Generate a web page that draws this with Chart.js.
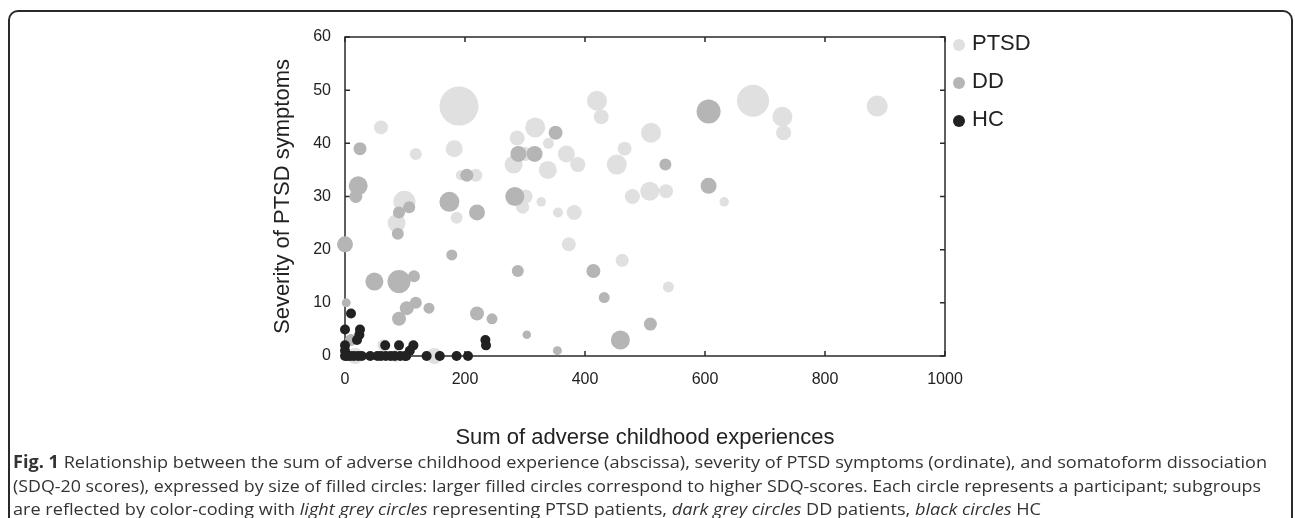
<!DOCTYPE html>
<html lang="en">
<head>
<meta charset="UTF-8">
<title>Fig. 1 ACE vs PTSD severity</title>
<script src="https://cdn.jsdelivr.net/npm/chart.js@4.4.0/dist/chart.umd.min.js"></script>
<style>
  body { margin: 0; background: #fff; width: 1295px; height: 518px; overflow: hidden; position: relative; }
  #frame { position: absolute; left: 8px; top: 10px; width: 1281px; height: 600px; border: 2px solid #2a2a2a; border-radius: 10px; }
  #myChart { position: absolute; left: 0; top: 0; }
  #caption { position: absolute; left: 13px; top: 450px; font-family: "Open Sans", "Noto Sans", sans-serif; font-size: 17px; color: #333; }
  #caption div { white-space: nowrap; line-height: 23.5px; width: max-content; transform-origin: left center; }
</style>
</head>
<body>
<div id="frame"></div>
<canvas id="myChart" width="1295" height="455"></canvas>
<div id="caption">
  <div data-w="1254"><b>Fig. 1</b> Relationship between the sum of adverse childhood experience (abscissa), severity of PTSD symptoms (ordinate), and somatoform dissociation</div>
  <div data-w="1248">(SDQ-20 scores), expressed by size of filled circles: larger filled circles correspond to higher SDQ-scores. Each circle represents a participant; subgroups</div>
  <div data-w="1028">are reflected by color-coding with <i>light grey circles</i> representing PTSD patients, <i>dark grey circles</i> DD patients, <i>black circles</i> HC</div>
</div>

<script>
    // values: x = sum of adverse childhood experiences,
    // y = PTSD severity, sdq = SDQ-20 score (circle size)
    const groups = ['PTSD', 'DD', 'HC'];

    const ptsdX = [190, 680, 887, 729, 731, 420, 427, 60, 118, 182, 193, 218, 287, 317, 339, 281, 300, 369, 338, 388, 453, 466, 510, 479, 508, 535, 632, 99, 86, 186, 301, 296, 327, 355, 382, 373, 462, 539, 17, 64, 84, 149];
    const ptsdY = [47, 48, 47, 45, 42, 48, 45, 43, 38, 39, 34, 34, 41, 43, 40, 36, 38, 38, 35, 36, 36, 39, 42, 30, 31, 31, 29, 29, 25, 26, 30, 28, 29, 27, 27, 21, 18, 13, 0, 2, 0, 0];
    const ptsdSdq = [78, 64, 42, 40, 30, 40, 30, 28, 24, 34, 20, 26, 30, 40, 22, 36, 28, 34, 36, 30, 40, 28, 40, 30, 38, 28, 19, 44, 36, 24, 28, 26, 19, 20, 30, 28, 26, 22, 32, 24, 24, 32];

    const ddX = [25, 22, 18, 0, 203, 289, 316, 351, 534, 606, 606, 107, 90, 88, 174, 220, 283, 178, 49, 90, 115, 288, 414, 432, 2, 118, 103, 90, 140, 220, 245, 303, 354, 459, 509, 10];
    const ddY = [39, 32, 30, 21, 34, 38, 38, 42, 36, 46, 32, 28, 27, 23, 29, 27, 30, 19, 14, 14, 15, 16, 16, 11, 10, 10, 9, 7, 9, 8, 7, 4, 1, 3, 6, 3];
    const ddSdq = [26, 38, 26, 32, 26, 32, 32, 28, 24, 48, 32, 24, 24, 24, 40, 32, 38, 22, 36, 46, 24, 24, 28, 22, 18, 24, 28, 28, 22, 28, 22, 17, 18, 38, 26, 24];

    const hcX = [10, 0, 25, 24, 20, 0, 0, 67, 90, 114, 108, 102, 234, 235, 0, 4, 9, 15, 22, 28, 42, 54, 60, 68, 76, 83, 92, 100, 136, 158, 186, 205];
    const hcY = [8, 5, 5, 4, 3, 2, 1, 2, 2, 2, 1, 0, 3, 2, 0, 0, 0, 0, 0, 0, 0, 0, 0, 0, 0, 0, 0, 0, 0, 0, 0, 0];
    const hcSdq = [20, 20, 20, 20, 20, 20, 20, 20, 20, 20, 20, 20, 20, 20, 20, 20, 20, 20, 20, 20, 20, 20, 20, 20, 20, 20, 20, 20, 20, 20, 20, 20];

    const xTicks = [0, 200, 400, 600, 800, 1000];
    const yTicks = [0, 10, 20, 30, 40, 50, 60];

    function toPoints(xs, ys, sdq) {
        return xs.map((x, i) => ({ x: x, y: ys[i], r: sdq[i] / 4 }));
    }

    // box round the plot with short ticks pointing inwards
    const boxPlugin = {
        id: 'box',
        beforeDatasetsDraw(chart) {
            const {ctx, chartArea: a, scales} = chart;
            ctx.save();
            ctx.strokeStyle = '#2a2a2a';
            ctx.lineWidth = 1.5;
            ctx.strokeRect(a.left, a.top, a.right - a.left, a.bottom - a.top);
            ctx.beginPath();
            xTicks.forEach(v => {
                const px = scales.x.getPixelForValue(v);
                ctx.moveTo(px, a.bottom); ctx.lineTo(px, a.bottom - 5);
                ctx.moveTo(px, a.top); ctx.lineTo(px, a.top + 5);
            });
            yTicks.forEach(v => {
                const py = scales.y.getPixelForValue(v);
                ctx.moveTo(a.left, py); ctx.lineTo(a.left + 5, py);
                ctx.moveTo(a.right, py); ctx.lineTo(a.right - 5, py);
            });
            ctx.stroke();
            ctx.restore();
        },
        afterDraw(chart) {
            // legend at the right of the plot
            const {ctx, chartArea: a} = chart;
            ctx.save();
            ctx.font = '22px "Liberation Sans", Arial, sans-serif';
            ctx.textBaseline = 'middle';
            chart.data.datasets.forEach((ds, i) => {
                const y = a.top + 8 + i * 38;
                ctx.fillStyle = ds.backgroundColor;
                ctx.beginPath();
                ctx.arc(a.right + 14, y, 6, 0, Math.PI * 2);
                ctx.fill();
                ctx.fillStyle = '#222';
                ctx.fillText(ds.label, a.right + 27, y - 1);
            });
            ctx.restore();
        }
    };

    Chart.defaults.font.family = '"Liberation Sans", Arial, sans-serif';
    Chart.defaults.color = '#222';

    const ctx = document.getElementById('myChart').getContext('2d');
    const myChart = new Chart(ctx, {
        type: 'bubble',
        data: {
            datasets: [
                { label: groups[0], data: toPoints(ptsdX, ptsdY, ptsdSdq), backgroundColor: '#e0e0e0', borderWidth: 0, order: 3, clip: false },
                { label: groups[1], data: toPoints(ddX, ddY, ddSdq), backgroundColor: '#b5b5b5', borderWidth: 0, order: 2, clip: false },
                { label: groups[2], data: toPoints(hcX, hcY, hcSdq), backgroundColor: '#222222', borderWidth: 0, order: 1, clip: false }
            ]
        },
        options: {
            responsive: false,
            animation: false,
            layout: { padding: { left: 267, top: 37, right: 350, bottom: 0 } },
            plugins: { legend: { display: false }, tooltip: { enabled: false } },
            scales: {
                x: {
                    type: 'linear', min: 0, max: 1000,
                    grid: { display: false, drawTicks: false },
                    border: { display: false },
                    afterBuildTicks: s => { s.ticks = xTicks.map(v => ({ value: v })); },
                    ticks: { font: { size: 16 }, padding: 14, maxRotation: 0, callback: v => String(v) },
                    title: { display: true, text: 'Sum of adverse childhood experiences', font: { size: 22 }, padding: { bottom: 4 } },
                    afterFit: s => { s.height = 99; }
                },
                y: {
                    type: 'linear', min: 0, max: 60,
                    grid: { display: false, drawTicks: false },
                    border: { display: false },
                    afterBuildTicks: s => { s.ticks = yTicks.map(v => ({ value: v })); },
                    ticks: { font: { size: 16 }, padding: 14, callback: v => String(v) },
                    title: { display: true, text: 'Severity of PTSD symptoms', font: { size: 22 }, padding: { top: 3 } },
                    afterFit: s => { s.width = 78; }
                }
            }
        },
        plugins: [boxPlugin]
    });

    // squeeze caption lines to the widths seen in the figure
    document.querySelectorAll('#caption div').forEach(d => {
        const w = d.getBoundingClientRect().width;
        d.style.transform = 'scaleX(' + (parseFloat(d.dataset.w) / w) + ')';
    });
</script>
</body>
</html>
